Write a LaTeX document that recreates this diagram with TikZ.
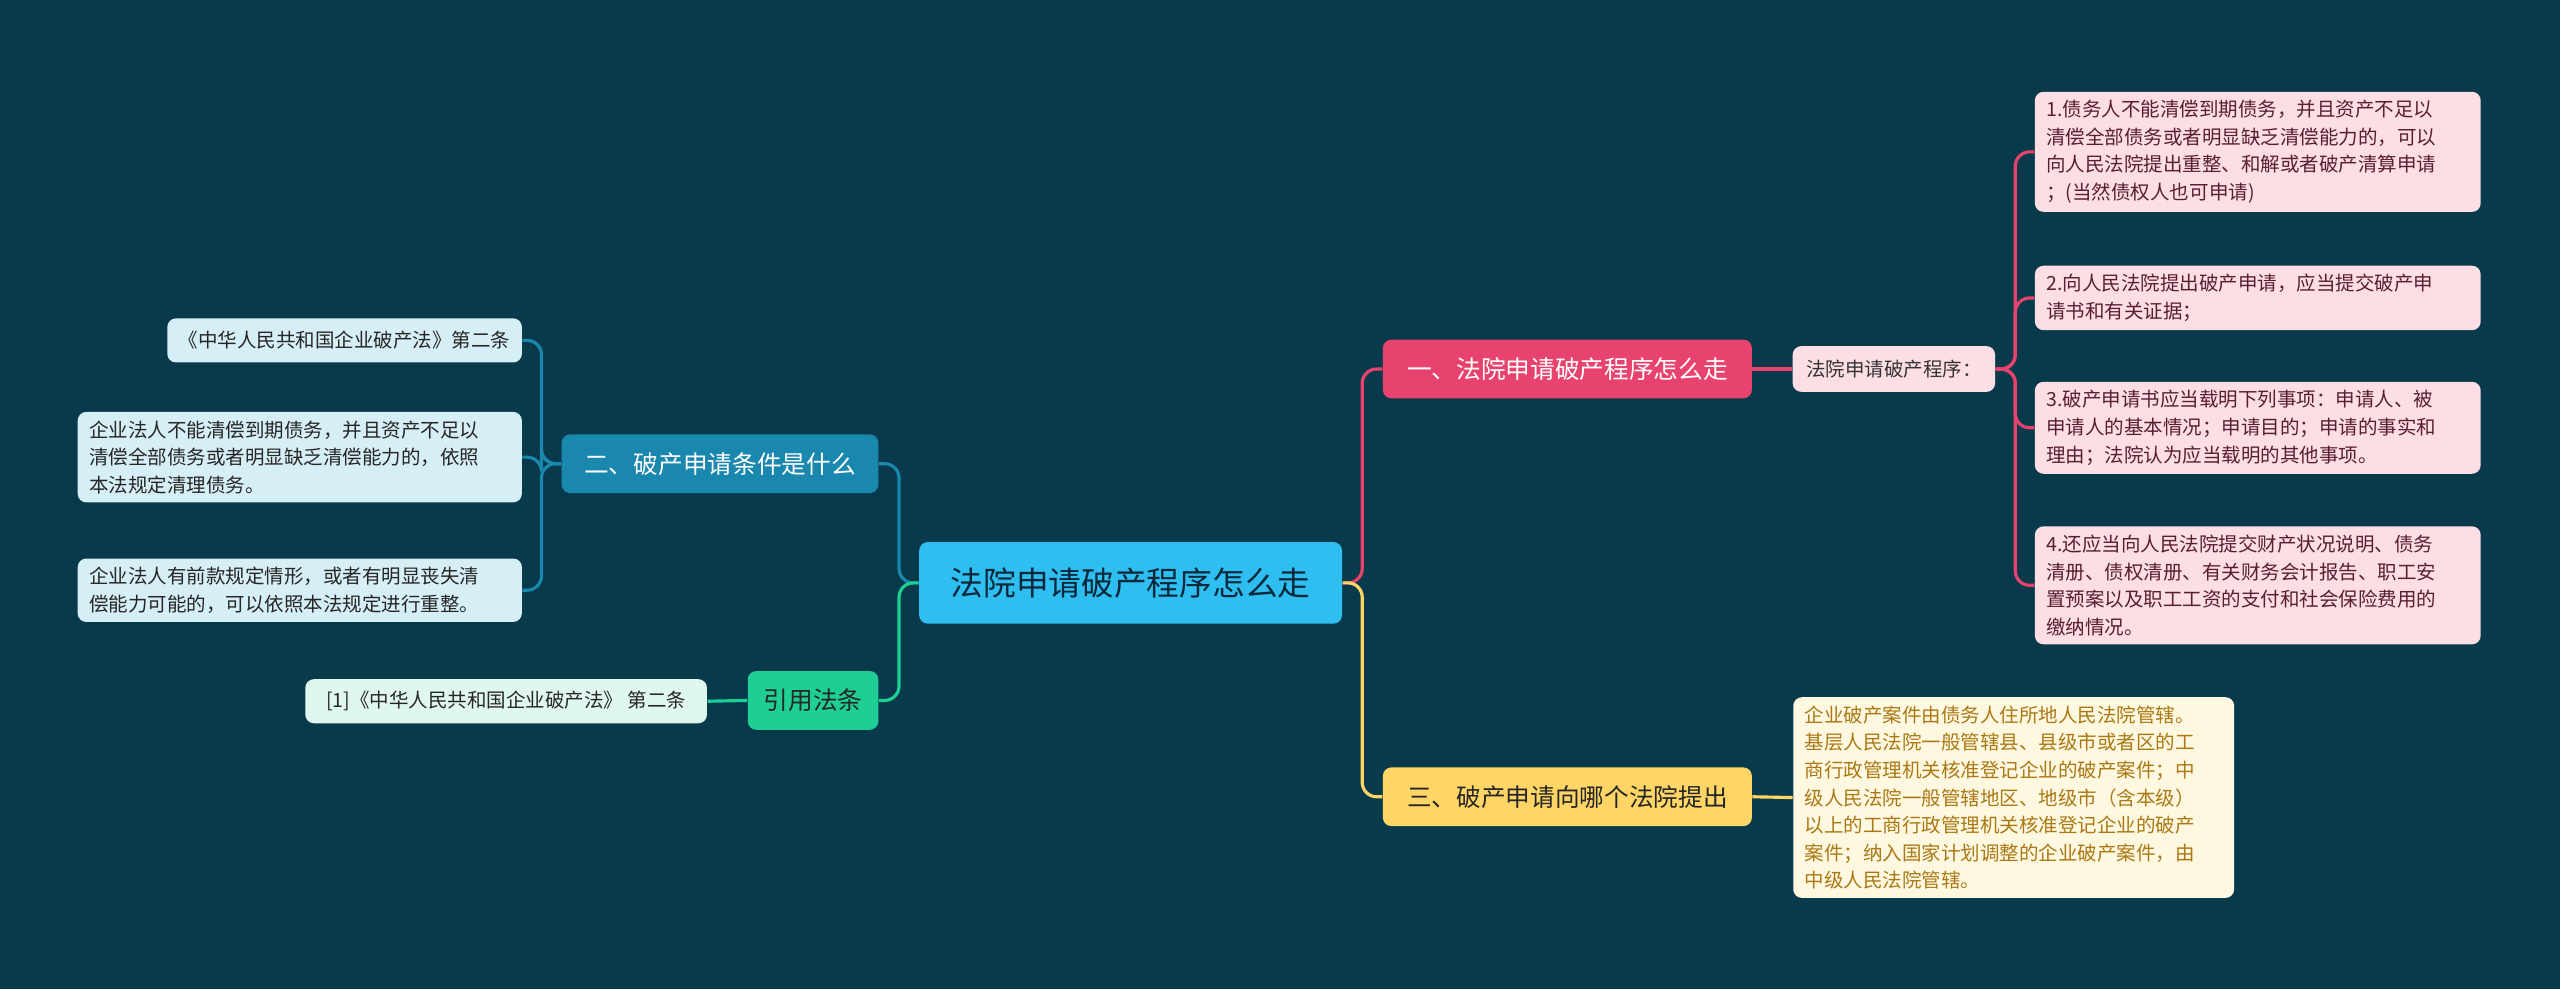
\documentclass[tikz,border=0pt]{standalone}
\usepackage{fontspec}
\setmainfont{Noto Sans CJK SC}
\begin{document}
\begin{tikzpicture}[x=0.02cm,y=-0.02cm,
  box/.style={rounded corners=3pt,inner sep=0pt,align=left},
  leaf/.style={box,font=\fontsize{6.8pt}{9.6pt}\selectfont},
  br/.style={box,align=center,font=\fontsize{8.6pt}{10pt}\selectfont},
  con/.style={line width=1.1pt,rounded corners=5pt}]
\fill[fill={rgb,255:red,8;green,58;blue,76}] (0,0) rectangle (1568,606);
\useasboundingbox (0,0) rectangle (1568,606);
\definecolor{pk}{RGB}{232,67,110}
\definecolor{pkl}{RGB}{252,222,228}
\definecolor{yl}{RGB}{255,214,102}
\definecolor{yll}{RGB}{255,248,225}
\definecolor{bl}{RGB}{26,135,174}
\definecolor{bll}{RGB}{214,238,245}
\definecolor{gr}{RGB}{29,207,149}
\definecolor{grl}{RGB}{224,247,239}
\definecolor{cb}{RGB}{46,190,240}

\node[box,fill=cb,minimum width=259*0.02cm,minimum height=50*0.02cm,align=center,font=\fontsize{11.4pt}{13pt}\selectfont,text={rgb,255:red,10;green,40;blue,60}] (c) at (692.5,357) {法院申请破产程序怎么走};

\node[br,fill=pk,text=white,minimum width=226*0.02cm,minimum height=36*0.02cm] (b1) at (960,226) {一、法院申请破产程序怎么走};
\node[leaf,fill=pkl,text=black!80,minimum width=124*0.02cm,minimum height=28*0.02cm,align=center] (s1) at (1160,226) {法院申请破产程序：};
\begin{scope}[every node/.style={leaf,fill=pkl,text={rgb,255:red,90;green,30;blue,50},text width=259*0.02cm,inner xsep=4pt,inner ysep=3pt,anchor=west}]
\node (l1) at (1246,93) {1.债务人不能清偿到期债务，并且资产不足以\\清偿全部债务或者明显缺乏清偿能力的，可以\\向人民法院提出重整、和解或者破产清算申请\\；(当然债权人也可申请)};
\node (l2) at (1246,182.5) {2.向人民法院提出破产申请，应当提交破产申\\请书和有关证据；};
\node (l3) at (1246,262) {3.破产申请书应当载明下列事项：申请人、被\\申请人的基本情况；申请目的；申请的事实和\\理由；法院认为应当载明的其他事项。};
\node (l4) at (1246,358.5) {4.还应当向人民法院提交财产状况说明、债务\\清册、债权清册、有关财务会计报告、职工安\\置预案以及职工工资的支付和社会保险费用的\\缴纳情况。};
\end{scope}

\node[br,fill=yl,text=black!85,minimum width=226*0.02cm,minimum height=36*0.02cm] (b3) at (960,488) {三、破产申请向哪个法院提出};
\node[leaf,fill=yll,text={rgb,255:red,170;green,120;blue,20},text width=256*0.02cm,inner xsep=4pt,inner ysep=3pt,anchor=west] (y1) at (1098,488.5) {企业破产案件由债务人住所地人民法院管辖。\\基层人民法院一般管辖县、县级市或者区的工\\商行政管理机关核准登记企业的破产案件；中\\级人民法院一般管辖地区、地级市（含本级）\\以上的工商行政管理机关核准登记企业的破产\\案件；纳入国家计划调整的企业破产案件，由\\中级人民法院管辖。};

\node[br,fill=bl,text=white,minimum width=194*0.02cm,minimum height=36*0.02cm] (b2) at (441,284) {二、破产申请条件是什么};
\begin{scope}[every node/.style={leaf,fill=bll,text=black!85,inner xsep=4pt,inner ysep=3pt,anchor=east}]
\node[minimum height=27*0.02cm] (a1) at (320,208.5) {《中华人民共和国企业破产法》第二条};
\node[text width=258*0.02cm] (a2) at (320,280) {企业法人不能清偿到期债务，并且资产不足以\\清偿全部债务或者明显缺乏清偿能力的，依照\\本法规定清理债务。};
\node[text width=258*0.02cm] (a3) at (320,361.5) {企业法人有前款规定情形，或者有明显丧失清\\偿能力可能的，可以依照本法规定进行重整。};
\end{scope}

\node[br,fill=gr,text=black!85,minimum width=80*0.02cm,minimum height=36*0.02cm] (b4) at (498,429) {引用法条};
\node[leaf,fill=grl,text=black!85,minimum width=246*0.02cm,minimum height=27*0.02cm,align=center] (g1) at (310,429.5) {[1]《中华人民共和国企业破产法》 第二条};

\draw[con,pk] (c.east) -- ++(12,0) |- (b1.west);
\draw[con,yl] (c.east) -- ++(12,0) |- (b3.west);
\draw[con,bl] (c.west) -- ++(-12,0) |- (b2.east);
\draw[con,gr] (c.west) -- ++(-12,0) |- (b4.east);
\draw[con,pk] (b1.east) -- (s1.west);
\draw[con,yl] (b3.east) -- (y1.west);
\draw[con,gr] (b4.west) -- (g1.east);
\foreach \n in {l1,l2,l3,l4} \draw[con,pk] (s1.east) -- ++(12,0) |- (\n.west);
\foreach \n in {a1,a2,a3} \draw[con,bl] (b2.west) -- ++(-12,0) |- (\n.east);
\end{tikzpicture}
\end{document}
